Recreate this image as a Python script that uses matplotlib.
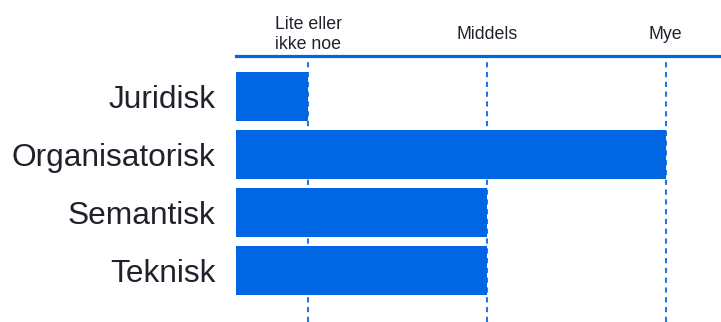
import matplotlib
matplotlib.use("Agg")
import matplotlib.pyplot as plt

# Assessed degree of each interoperability level
categories = ["Juridisk", "Organisatorisk", "Semantisk", "Teknisk"]
values = [1, 3, 2, 2]
level_positions = [1, 2, 3]
level_labels = ["Lite eller\nikke noe", "Middels", "Mye"]

BLUE = "#0066e3"
TEXT = "#231f2b"

plt.rcParams["font.family"] = ["Liberation Sans", "DejaVu Sans"]

fig = plt.figure(figsize=(7.21, 3.22), dpi=100)
ax = fig.add_axes([236 / 721, 0.0, 1 - 236 / 721, 1 - 56 / 322])

y = list(range(len(categories)))
ax.barh(y, values, height=0.845, color=BLUE, zorder=2)

for xv in level_positions:
    ax.axvline(xv, color="#2276e6", linewidth=1.5, linestyle=(0, (2.5, 2.2)), zorder=1)

ax.set_xlim(0.595, 3.31)
ax.set_ylim(3.888, -0.698)

ax.set_yticks(y)
ax.set_yticklabels(categories, fontsize=22.8, color=TEXT)
ax.tick_params(axis="y", length=0, pad=15)

ax.xaxis.tick_top()
ax.set_xticks(level_positions)
ax.set_xticklabels(level_labels, fontsize=12.8, color=TEXT, linespacing=1.25)
ax.tick_params(axis="x", length=0, pad=15.5)
for lbl in ax.get_xticklabels():
    lbl.set_verticalalignment("center")
    lbl.set_multialignment("center")

for side in ["left", "right", "bottom"]:
    ax.spines[side].set_visible(False)
ax.spines["top"].set_color(BLUE)
ax.spines["top"].set_linewidth(2.3)

fig.savefig("out.png", dpi=100)
